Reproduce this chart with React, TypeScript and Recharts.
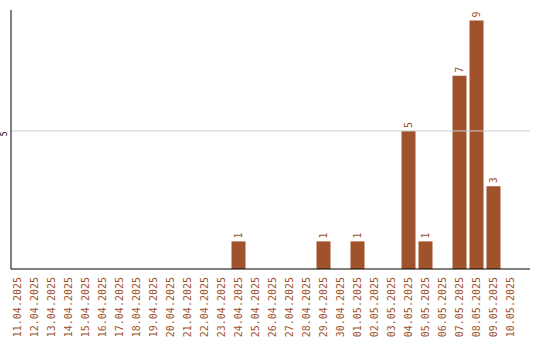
import { Bar, BarChart, LabelList, ReferenceLine, XAxis, YAxis } from 'recharts';

// Daily counts, 11.04.2025 – 10.05.2025
const days = [
  '11.04.2025', '12.04.2025', '13.04.2025', '14.04.2025', '15.04.2025',
  '16.04.2025', '17.04.2025', '18.04.2025', '19.04.2025', '20.04.2025',
  '21.04.2025', '22.04.2025', '23.04.2025', '24.04.2025', '25.04.2025',
  '26.04.2025', '27.04.2025', '28.04.2025', '29.04.2025', '30.04.2025',
  '01.05.2025', '02.05.2025', '03.05.2025', '04.05.2025', '05.05.2025',
  '06.05.2025', '07.05.2025', '08.05.2025', '09.05.2025', '10.05.2025',
];
const counts = [
  0, 0, 0, 0, 0, 0, 0, 0, 0, 0,
  0, 0, 0, 1, 0, 0, 0, 0, 1, 0,
  1, 0, 0, 5, 1, 0, 7, 9, 3, 0,
];
const yTicks = [5];

const data = days.map((day, i) => ({ day, count: counts[i] }));

const BROWN = '#a0522d';
const FONT = '"DejaVu Sans Mono", monospace';

function DayTick({ x, y, payload }: any) {
  return (
    <text
      x={x}
      y={y}
      transform={`rotate(-90 ${x} ${y})`}
      textAnchor="end"
      dominantBaseline="central"
      fontSize={10}
      fontFamily={FONT}
      fill={BROWN}
    >
      {payload.value}
    </text>
  );
}

function CountTick({ y, payload }: any) {
  return (
    <text
      x={5}
      y={y + 3}
      transform={`rotate(-90 5 ${y + 3})`}
      textAnchor="middle"
      dominantBaseline="central"
      fontSize={8}
      fontFamily={FONT}
      fill="#000"
    >
      {payload.value}
    </text>
  );
}

function ValueLabel({ x, y, width, value }: any) {
  if (!value) return null;
  const cx = x + width / 2;
  const ty = y - 3;
  return (
    <text
      x={cx}
      y={ty}
      transform={`rotate(-90 ${cx} ${ty})`}
      textAnchor="start"
      dominantBaseline="central"
      fontSize={10}
      fontFamily={FONT}
      fill={BROWN}
    >
      {value}
    </text>
  );
}

export default function App() {
  return (
    <div style={{ position: 'absolute', left: 0, top: 0, background: '#fff' }}>
      <BarChart
        width={540}
        height={340}
        data={data}
        margin={{ top: 10, right: 10, bottom: 0, left: 0 }}
      >
        <XAxis
          dataKey="day"
          interval={0}
          height={71}
          tickLine={false}
          axisLine={{ stroke: '#000' }}
          padding={{ left: -2.5, right: 11.5 }}
          tick={<DayTick />}
        />
        <YAxis
          width={11}
          domain={[0, 9.38]}
          ticks={yTicks}
          tickLine={false}
          axisLine={{ stroke: '#000' }}
          tick={<CountTick />}
        />
        <ReferenceLine y={5} stroke="#cccccc" />
        <Bar dataKey="count" fill={BROWN} barSize={14} isAnimationActive={false}>
          <LabelList dataKey="count" content={<ValueLabel />} />
        </Bar>
      </BarChart>
    </div>
  );
}
